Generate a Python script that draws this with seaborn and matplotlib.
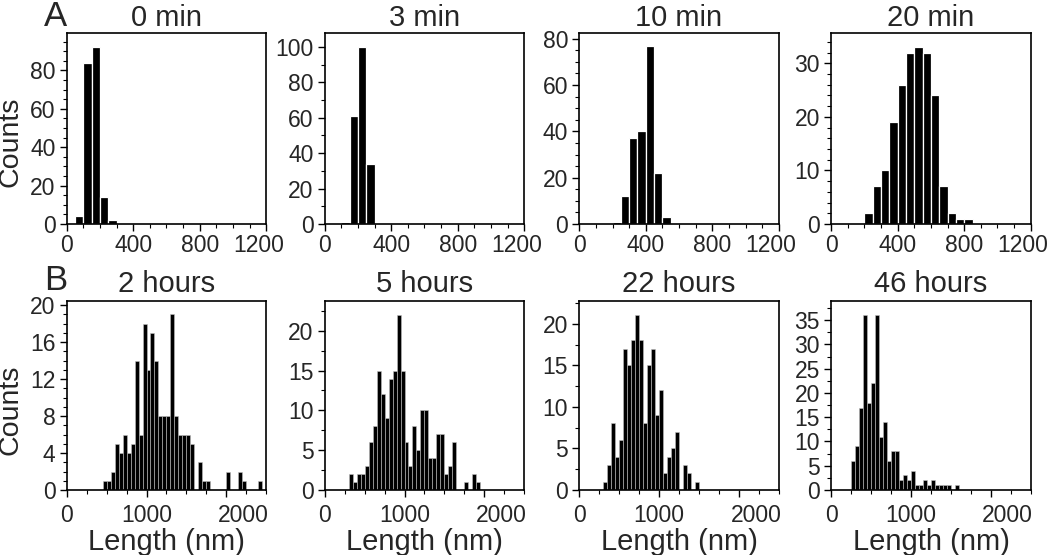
import numpy as np
import matplotlib
matplotlib.use("Agg")
import matplotlib.pyplot as plt
import matplotlib.transforms as mtransforms
from matplotlib.ticker import MultipleLocator
import seaborn as sns

sns.set_style("ticks")
plt.rcParams["font.family"] = ["Liberation Sans", "DejaVu Sans"]

bin_width = 50  # nm

# A: early times (first bin start in nm, then counts per 50 nm bin)
min0_start = 50
min0_counts = [4, 84, 92, 14, 2]
min3_start = 100
min3_counts = [1, 61, 100, 34]
min10_start = 200
min10_counts = [1, 12, 37, 40, 77, 22, 3]
min20_start = 200
min20_counts = [2, 7, 10, 19, 26, 32, 33, 32, 24, 7, 2, 1, 1]

# B: late times
h2_start = 450
h2_counts = [1, 1, 2, 5, 4, 6, 4, 5, 14, 6, 18, 13, 17, 14, 8, 8, 8, 19, 8, 6,
             6, 6, 5, 0, 3, 1, 1, 0, 0, 0, 0, 2, 0, 0, 2, 1, 0, 0, 0, 1]
h5_start = 300
h5_counts = [2, 1, 2, 2, 3, 6, 8, 15, 12, 9, 14, 15, 22, 15, 6, 3, 8, 5, 10, 10,
             4, 4, 7, 7, 2, 3, 6, 0, 0, 1, 0, 2, 1]
h22_start = 300
h22_counts = [1, 3, 8, 4, 6, 17, 15, 18, 21, 18, 8, 15, 17, 9, 12, 2, 4, 5, 7, 0,
              3, 2, 0, 1]
h46_start = 250
h46_counts = [6, 9, 17, 36, 18, 22, 36, 11, 14, 6, 8, 8, 2, 3, 2, 4, 1, 1, 2, 1,
              2, 1, 1, 1, 1, 0, 1]

titles_a = ["0 min", "3 min", "10 min", "20 min"]
titles_b = ["2 hours", "5 hours", "22 hours", "46 hours"]

top_panels = [
    (min0_start, min0_counts, 99.6, 20, 5),
    (min3_start, min3_counts, 108, 20, 10),
    (min10_start, min10_counts, 82.6, 20, 5),
    (min20_start, min20_counts, 35.7, 10, 2),
]
bottom_panels = [
    (h2_start, h2_counts, 20.4, 4, 1),
    (h5_start, h5_counts, 23.7, 5, 2.5),
    (h22_start, h22_counts, 22.7, 5, 2.5),
    (h46_start, h46_counts, 38.9, 5, 2.5),
]

W, H = 1050, 555
fig = plt.figure(figsize=(W / 100, H / 100), dpi=100)
lefts = [66.7, 324.7, 579.3, 831.2]


def draw(ax, start, counts, ymax, major, minor, edge_lw, edge_col):
    n = len(counts)
    centers = start + bin_width * (np.arange(n) + 0.5)
    sns.histplot(x=centers, weights=counts, binwidth=bin_width,
                 binrange=(start, start + bin_width * n), ax=ax,
                 color="black", edgecolor=edge_col, linewidth=edge_lw,
                 alpha=1)
    ax.set_ylim(0, ymax)
    ax.yaxis.set_major_locator(MultipleLocator(major))
    ax.yaxis.set_minor_locator(MultipleLocator(minor))
    ax.set_ylabel("")
    for s in ax.spines.values():
        s.set_linewidth(1.2)
        s.set_color("black")
    ax.tick_params(which="major", direction="out", length=5, width=1,
                   labelsize=16.5, color="black")
    ax.tick_params(which="minor", direction="out", length=3, width=0.8,
                   color="black")
    ax.tick_params(axis="y", pad=3)


def nudge_last_label(ax, dx):
    # the last x label sits off its tick in the reference figure
    fig.canvas.draw()
    lab = ax.get_xticklabels()[-1]
    lab.set_transform(lab.get_transform() +
                      mtransforms.ScaledTranslation(dx / 100, 0, fig.dpi_scale_trans))


top_axes, bottom_axes = [], []
for i, (start, counts, ymax, major, minor) in enumerate(top_panels):
    ax = fig.add_axes([lefts[i] / W, 1 - 224 / H, 199.5 / W, 191.3 / H])
    draw(ax, start, counts, ymax, major, minor, 0.9, "white")
    ax.set_xlim(0, 1200)
    ax.set_xticks([0, 400, 800, 1200])
    ax.xaxis.set_minor_locator(MultipleLocator(100))
    ax.tick_params(axis="x", pad=2)
    ax.set_xlabel("")
    ax.set_title(titles_a[i], fontsize=21, pad=5)
    top_axes.append(ax)

for i, (start, counts, ymax, major, minor) in enumerate(bottom_panels):
    ax = fig.add_axes([lefts[i] / W, 1 - 490 / H, 199.5 / W, 188.7 / H])
    draw(ax, start, counts, ymax, major, minor, 0.4, "0.75")
    ax.set_xlim(0, 2500)
    ax.set_xticks([0, 1000, 2000])
    ax.xaxis.set_minor_locator(MultipleLocator(250))
    ax.tick_params(axis="x", pad=5)
    ax.set_xlabel("Length (nm)", fontsize=21, labelpad=1)
    ax.set_title(titles_b[i], fontsize=21, pad=7)
    bottom_axes.append(ax)

for ax in top_axes:
    nudge_last_label(ax, -8)
for ax in bottom_axes:
    nudge_last_label(ax, 17)

fig.text(11 / W, 1 - 142 / H, "Counts", rotation=90, ha="center", va="center", fontsize=20.5)
fig.text(11 / W, 1 - 410 / H, "Counts", rotation=90, ha="center", va="center", fontsize=20.5)
fig.text(55 / W, 1 - 16 / H, "A", ha="center", va="center", fontsize=25)
fig.text(56 / W, 1 - 281 / H, "B", ha="center", va="center", fontsize=25)

fig.savefig("out.png", dpi=100)
